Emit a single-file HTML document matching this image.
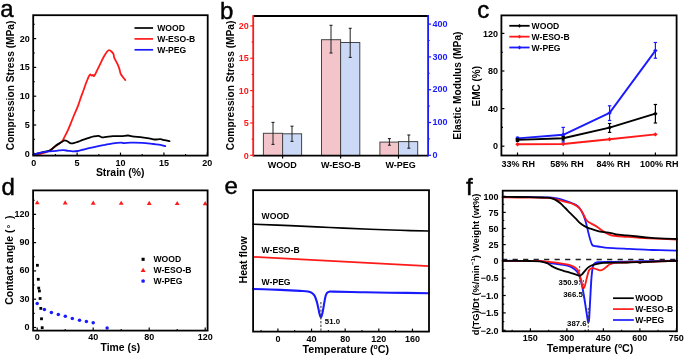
<!DOCTYPE html>
<html><head><meta charset="utf-8"><style>
html,body{margin:0;padding:0;background:#fff;}
svg{display:block;font-family:"Liberation Sans",sans-serif;will-change:transform;}
</style></head><body>
<svg width="685" height="356" viewBox="0 0 685 356">
<rect width="685" height="356" fill="#fff"/>
<text x="0.2" y="17.3" font-size="24" font-weight="normal" fill="#000" stroke="#000" stroke-width="0.45">a</text>
<text x="220.1" y="18.5" font-size="24" font-weight="normal" fill="#000" stroke="#000" stroke-width="0.45">b</text>
<text x="477.2" y="18.3" font-size="24" font-weight="normal" fill="#000" stroke="#000" stroke-width="0.45">c</text>
<text x="1.6" y="195.2" font-size="24" font-weight="normal" fill="#000" stroke="#000" stroke-width="0.45">d</text>
<text x="224.6" y="194.2" font-size="24" font-weight="normal" fill="#000" stroke="#000" stroke-width="0.45">e</text>
<text x="466" y="195" font-size="24" font-weight="normal" fill="#000" stroke="#000" stroke-width="0.45">f</text>
<line x1="33.7" y1="155.6" x2="33.7" y2="152.6" stroke="#000" stroke-width="1.2" />
<text x="33.7" y="166" font-size="9" text-anchor="middle" fill="#000" font-weight="bold" >0</text>
<line x1="77.1" y1="155.6" x2="77.1" y2="152.6" stroke="#000" stroke-width="1.2" />
<text x="77.1" y="166" font-size="9" text-anchor="middle" fill="#000" font-weight="bold" >5</text>
<line x1="120.5" y1="155.6" x2="120.5" y2="152.6" stroke="#000" stroke-width="1.2" />
<text x="120.5" y="166" font-size="9" text-anchor="middle" fill="#000" font-weight="bold" >10</text>
<line x1="163.9" y1="155.6" x2="163.9" y2="152.6" stroke="#000" stroke-width="1.2" />
<text x="163.9" y="166" font-size="9" text-anchor="middle" fill="#000" font-weight="bold" >15</text>
<line x1="207.3" y1="155.6" x2="207.3" y2="152.6" stroke="#000" stroke-width="1.2" />
<text x="207.3" y="166" font-size="9" text-anchor="middle" fill="#000" font-weight="bold" >20</text>
<line x1="55.4" y1="155.6" x2="55.4" y2="154" stroke="#000" stroke-width="1.1" />
<line x1="98.8" y1="155.6" x2="98.8" y2="154" stroke="#000" stroke-width="1.1" />
<line x1="142.2" y1="155.6" x2="142.2" y2="154" stroke="#000" stroke-width="1.1" />
<line x1="185.6" y1="155.6" x2="185.6" y2="154" stroke="#000" stroke-width="1.1" />
<line x1="33.2" y1="153.8" x2="36.2" y2="153.8" stroke="#000" stroke-width="1.2" />
<text x="29.7" y="156.7" font-size="9" text-anchor="end" fill="#000" font-weight="bold" >0</text>
<line x1="33.2" y1="125" x2="36.2" y2="125" stroke="#000" stroke-width="1.2" />
<text x="29.7" y="127.9" font-size="9" text-anchor="end" fill="#000" font-weight="bold" >5</text>
<line x1="33.2" y1="96.2" x2="36.2" y2="96.2" stroke="#000" stroke-width="1.2" />
<text x="29.7" y="99.1" font-size="9" text-anchor="end" fill="#000" font-weight="bold" >10</text>
<line x1="33.2" y1="67.4" x2="36.2" y2="67.4" stroke="#000" stroke-width="1.2" />
<text x="29.7" y="70.3" font-size="9" text-anchor="end" fill="#000" font-weight="bold" >15</text>
<line x1="33.2" y1="38.6" x2="36.2" y2="38.6" stroke="#000" stroke-width="1.2" />
<text x="29.7" y="41.5" font-size="9" text-anchor="end" fill="#000" font-weight="bold" >20</text>
<line x1="33.2" y1="139.4" x2="34.8" y2="139.4" stroke="#000" stroke-width="1.1" />
<line x1="33.2" y1="110.6" x2="34.8" y2="110.6" stroke="#000" stroke-width="1.1" />
<line x1="33.2" y1="81.8" x2="34.8" y2="81.8" stroke="#000" stroke-width="1.1" />
<line x1="33.2" y1="53" x2="34.8" y2="53" stroke="#000" stroke-width="1.1" />
<line x1="33.2" y1="24.2" x2="34.8" y2="24.2" stroke="#000" stroke-width="1.1" />
<path d="M33.5,155 C34.25,154.92 36.25,154.83 38,154.5 C39.75,154.17 42,153.72 44,153 C46,152.28 48.02,151.37 50,150.2 C51.98,149.03 53.93,147.45 55.9,146 C57.87,144.55 60.33,143.07 61.8,141.5 C63.27,139.93 63.72,138.4 64.7,136.6 C65.68,134.8 66.72,132.83 67.7,130.7 C68.68,128.57 69.53,126.42 70.6,123.8 C71.67,121.18 72.83,118.07 74.1,115 C75.37,111.93 77.13,108.15 78.2,105.4 C79.27,102.65 79.6,101.07 80.5,98.5 C81.4,95.93 82.77,92.33 83.6,90 C84.43,87.67 84.85,86.25 85.5,84.5 C86.15,82.75 86.88,80.98 87.5,79.5 C88.12,78.02 88.73,76.43 89.2,75.6 C89.67,74.77 89.92,74.48 90.3,74.5 C90.68,74.52 91.08,75.63 91.5,75.7 C91.92,75.77 92.35,74.87 92.8,74.9 C93.25,74.93 93.48,76.67 94.2,75.9 C94.92,75.13 96.07,72.35 97.1,70.3 C98.13,68.25 99.28,65.85 100.4,63.6 C101.52,61.35 102.67,58.82 103.8,56.8 C104.93,54.78 106.3,52.62 107.2,51.5 C108.1,50.38 108.5,50.1 109.2,50.1 C109.9,50.1 110.67,50.8 111.4,51.5 C112.13,52.2 113.13,53.27 113.6,54.3 C114.07,55.33 113.58,56.15 114.2,57.7 C114.82,59.25 116.45,61.78 117.3,63.6 C118.15,65.42 118.75,66.92 119.3,68.6 C119.85,70.28 120.1,72.43 120.6,73.7 C121.1,74.97 121.52,75.13 122.3,76.2 C123.08,77.27 124.8,79.45 125.3,80.1" fill="none" stroke="#ff1a1a" stroke-width="1.8" stroke-linejoin="round" stroke-linecap="round" />
<path d="M33.5,154.6 C34.58,154.3 38.08,153.3 40,152.8 C41.92,152.3 43.25,152.03 45,151.6 C46.75,151.17 48.68,151.22 50.5,150.2 C52.32,149.18 54.02,146.87 55.9,145.5 C57.78,144.13 60.33,142.87 61.8,142 C63.27,141.13 63.72,140.38 64.7,140.3 C65.68,140.22 66.63,140.98 67.7,141.5 C68.77,142.02 69.78,143.23 71.1,143.4 C72.42,143.57 74.12,142.9 75.6,142.5 C77.08,142.1 78.53,141.53 80,141 C81.47,140.47 82.9,139.83 84.4,139.3 C85.9,138.77 87.45,138.28 89,137.8 C90.55,137.32 92.13,136.73 93.7,136.4 C95.27,136.07 97.03,135.65 98.4,135.8 C99.77,135.95 100.53,137.13 101.9,137.3 C103.27,137.47 104.75,136.98 106.6,136.8 C108.45,136.62 110.58,136.32 113,136.2 C115.42,136.08 118.58,136.22 121.1,136.1 C123.62,135.98 126.23,135.45 128.1,135.5 C129.97,135.55 129.97,136.08 132.3,136.4 C134.63,136.72 139.3,137.07 142.1,137.4 C144.9,137.73 147,138.05 149.1,138.4 C151.2,138.75 152.82,139.37 154.7,139.5 C156.58,139.63 158.75,139.08 160.4,139.2 C162.05,139.32 163.08,139.87 164.6,140.2 C166.12,140.53 168.68,141.03 169.5,141.2" fill="none" stroke="#000" stroke-width="1.8" stroke-linejoin="round" stroke-linecap="round" />
<path d="M33.5,154.7 C34.58,154.38 37.75,153.32 40,152.8 C42.25,152.28 44.27,151.93 47,151.6 C49.73,151.27 53.67,151.05 56.4,150.8 C59.13,150.55 61.47,150.1 63.4,150.1 C65.33,150.1 66.45,150.6 68,150.8 C69.55,151 71.13,151.27 72.7,151.3 C74.27,151.33 75.85,151.23 77.4,151 C78.95,150.77 80.05,150.38 82,149.9 C83.95,149.42 86.37,148.73 89.1,148.1 C91.83,147.47 95.75,146.65 98.4,146.1 C101.05,145.55 102.57,145.27 105,144.8 C107.43,144.33 110.32,143.67 113,143.3 C115.68,142.93 119.28,142.63 121.1,142.6 C122.92,142.57 122.27,143.1 123.9,143.1 C125.53,143.1 127.87,142.65 130.9,142.6 C133.93,142.55 138.37,142.57 142.1,142.8 C145.83,143.03 150.25,143.67 153.3,144 C156.35,144.33 158.4,144.43 160.4,144.8 C162.4,145.17 164.48,145.97 165.3,146.2" fill="none" stroke="#1a1aff" stroke-width="1.8" stroke-linejoin="round" stroke-linecap="round" />
<rect x="33.2" y="15.2" width="174.5" height="140.4" fill="none" stroke="#000" stroke-width="1.8" />
<line x1="134.5" y1="28" x2="153.1" y2="28" stroke="#000" stroke-width="1.7" />
<text x="157.2" y="31.1" font-size="8.6" text-anchor="start" fill="#000" font-weight="bold" >WOOD</text>
<line x1="134.5" y1="38.9" x2="153.1" y2="38.9" stroke="#ff1a1a" stroke-width="1.7" />
<text x="157.2" y="42" font-size="8.6" text-anchor="start" fill="#000" font-weight="bold" >W-ESO-B</text>
<line x1="134.5" y1="49.8" x2="153.1" y2="49.8" stroke="#1a1aff" stroke-width="1.7" />
<text x="157.2" y="52.9" font-size="8.6" text-anchor="start" fill="#000" font-weight="bold" >W-PEG</text>
<text transform="translate(10.4,85.4) rotate(-90)" x="0" y="0" font-size="10.2" text-anchor="middle" dominant-baseline="central" fill="#000" font-weight="bold" >Compression Stress (MPa)</text>
<text x="120.2" y="175.5" font-size="10.4" text-anchor="middle" fill="#000" font-weight="bold" >Strain (%)</text>
<rect x="263.4" y="133.3" width="19.2" height="22.3" fill="#f3c5ca" stroke="#444" stroke-width="1.0" />
<rect x="282.6" y="133.8" width="19" height="21.8" fill="#cbd9f7" stroke="#444" stroke-width="1.0" />
<rect x="321.5" y="39.7" width="19.1" height="115.9" fill="#f3c5ca" stroke="#444" stroke-width="1.0" />
<rect x="340.6" y="42.5" width="19.2" height="113.1" fill="#cbd9f7" stroke="#444" stroke-width="1.0" />
<rect x="379.9" y="142.1" width="18.6" height="13.5" fill="#f3c5ca" stroke="#444" stroke-width="1.0" />
<rect x="398.5" y="141.6" width="19.2" height="14" fill="#cbd9f7" stroke="#444" stroke-width="1.0" />
<line x1="273" y1="122.4" x2="273" y2="144.4" stroke="#222" stroke-width="1" />
<line x1="271.5" y1="122.4" x2="274.5" y2="122.4" stroke="#222" stroke-width="1.1" />
<line x1="271.5" y1="144.4" x2="274.5" y2="144.4" stroke="#222" stroke-width="1.1" />
<line x1="292" y1="126.2" x2="292" y2="141.4" stroke="#222" stroke-width="1" />
<line x1="290.5" y1="126.2" x2="293.5" y2="126.2" stroke="#222" stroke-width="1.1" />
<line x1="290.5" y1="141.4" x2="293.5" y2="141.4" stroke="#222" stroke-width="1.1" />
<line x1="331" y1="25.3" x2="331" y2="53" stroke="#222" stroke-width="1" />
<line x1="329.5" y1="25.3" x2="332.5" y2="25.3" stroke="#222" stroke-width="1.1" />
<line x1="329.5" y1="53" x2="332.5" y2="53" stroke="#222" stroke-width="1.1" />
<line x1="350.2" y1="28.3" x2="350.2" y2="57.4" stroke="#222" stroke-width="1" />
<line x1="348.7" y1="28.3" x2="351.7" y2="28.3" stroke="#222" stroke-width="1.1" />
<line x1="348.7" y1="57.4" x2="351.7" y2="57.4" stroke="#222" stroke-width="1.1" />
<line x1="389.4" y1="138.6" x2="389.4" y2="145.2" stroke="#222" stroke-width="1" />
<line x1="387.9" y1="138.6" x2="390.9" y2="138.6" stroke="#222" stroke-width="1.1" />
<line x1="387.9" y1="145.2" x2="390.9" y2="145.2" stroke="#222" stroke-width="1.1" />
<line x1="408.8" y1="135" x2="408.8" y2="148.2" stroke="#222" stroke-width="1" />
<line x1="407.3" y1="135" x2="410.3" y2="135" stroke="#222" stroke-width="1.1" />
<line x1="407.3" y1="148.2" x2="410.3" y2="148.2" stroke="#222" stroke-width="1.1" />
<line x1="253.2" y1="16" x2="428.1" y2="16" stroke="#000" stroke-width="1.8" />
<line x1="253.2" y1="155.6" x2="428.1" y2="155.6" stroke="#000" stroke-width="1.8" />
<line x1="253.2" y1="15.1" x2="253.2" y2="156.5" stroke="#ff1a1a" stroke-width="1.8" />
<line x1="428.1" y1="15.1" x2="428.1" y2="156.5" stroke="#1a1aff" stroke-width="1.8" />
<line x1="253.2" y1="155.3" x2="250.2" y2="155.3" stroke="#ff1a1a" stroke-width="1.2" />
<text x="248.7" y="158.5" font-size="9" text-anchor="end" fill="#ff1a1a" font-weight="bold" >0</text>
<line x1="253.2" y1="122.95" x2="250.2" y2="122.95" stroke="#ff1a1a" stroke-width="1.2" />
<text x="248.7" y="126.15" font-size="9" text-anchor="end" fill="#ff1a1a" font-weight="bold" >5</text>
<line x1="253.2" y1="90.6" x2="250.2" y2="90.6" stroke="#ff1a1a" stroke-width="1.2" />
<text x="248.7" y="93.8" font-size="9" text-anchor="end" fill="#ff1a1a" font-weight="bold" >10</text>
<line x1="253.2" y1="58.25" x2="250.2" y2="58.25" stroke="#ff1a1a" stroke-width="1.2" />
<text x="248.7" y="61.45" font-size="9" text-anchor="end" fill="#ff1a1a" font-weight="bold" >15</text>
<line x1="253.2" y1="25.9" x2="250.2" y2="25.9" stroke="#ff1a1a" stroke-width="1.2" />
<text x="248.7" y="29.1" font-size="9" text-anchor="end" fill="#ff1a1a" font-weight="bold" >20</text>
<line x1="253.2" y1="139.12" x2="251.6" y2="139.12" stroke="#ff1a1a" stroke-width="1.1" />
<line x1="253.2" y1="106.78" x2="251.6" y2="106.78" stroke="#ff1a1a" stroke-width="1.1" />
<line x1="253.2" y1="74.43" x2="251.6" y2="74.43" stroke="#ff1a1a" stroke-width="1.1" />
<line x1="253.2" y1="42.08" x2="251.6" y2="42.08" stroke="#ff1a1a" stroke-width="1.1" />
<line x1="428.1" y1="155.3" x2="431.1" y2="155.3" stroke="#1a1aff" stroke-width="1.2" />
<text x="432.6" y="157.9" font-size="9" text-anchor="start" fill="#1a1aff" font-weight="bold" >0</text>
<line x1="428.1" y1="122.5" x2="431.1" y2="122.5" stroke="#1a1aff" stroke-width="1.2" />
<text x="432.6" y="125.1" font-size="9" text-anchor="start" fill="#1a1aff" font-weight="bold" >100</text>
<line x1="428.1" y1="89.7" x2="431.1" y2="89.7" stroke="#1a1aff" stroke-width="1.2" />
<text x="432.6" y="92.3" font-size="9" text-anchor="start" fill="#1a1aff" font-weight="bold" >200</text>
<line x1="428.1" y1="56.9" x2="431.1" y2="56.9" stroke="#1a1aff" stroke-width="1.2" />
<text x="432.6" y="59.5" font-size="9" text-anchor="start" fill="#1a1aff" font-weight="bold" >300</text>
<line x1="428.1" y1="24.1" x2="431.1" y2="24.1" stroke="#1a1aff" stroke-width="1.2" />
<text x="432.6" y="26.7" font-size="9" text-anchor="start" fill="#1a1aff" font-weight="bold" >400</text>
<line x1="428.1" y1="138.9" x2="429.7" y2="138.9" stroke="#1a1aff" stroke-width="1.1" />
<line x1="428.1" y1="106.1" x2="429.7" y2="106.1" stroke="#1a1aff" stroke-width="1.1" />
<line x1="428.1" y1="73.3" x2="429.7" y2="73.3" stroke="#1a1aff" stroke-width="1.1" />
<line x1="428.1" y1="40.5" x2="429.7" y2="40.5" stroke="#1a1aff" stroke-width="1.1" />
<line x1="282.6" y1="155.6" x2="282.6" y2="158.6" stroke="#000" stroke-width="1.2" />
<text x="282.2" y="167.6" font-size="9" text-anchor="middle" fill="#000" font-weight="bold" >WOOD</text>
<line x1="340.6" y1="155.6" x2="340.6" y2="158.6" stroke="#000" stroke-width="1.2" />
<text x="340.8" y="167.6" font-size="9" text-anchor="middle" fill="#000" font-weight="bold" >W-ESO-B</text>
<line x1="398.5" y1="155.6" x2="398.5" y2="158.6" stroke="#000" stroke-width="1.2" />
<text x="400.6" y="167.6" font-size="9" text-anchor="middle" fill="#000" font-weight="bold" >W-PEG</text>
<text transform="translate(230.8,85.4) rotate(-90)" x="0" y="0" font-size="10.2" text-anchor="middle" dominant-baseline="central" fill="#000" font-weight="bold" >Compression Stress (MPa)</text>
<text transform="translate(457,85.6) rotate(-90)" x="0" y="0" font-size="10.2" text-anchor="middle" dominant-baseline="central" fill="#000" font-weight="bold" >Elastic Modulus (MPa)</text>
<line x1="501.4" y1="146.2" x2="504.4" y2="146.2" stroke="#000" stroke-width="1.2" />
<text x="498.1" y="149.4" font-size="9" text-anchor="end" fill="#000" font-weight="bold" >0</text>
<line x1="501.4" y1="108.6" x2="504.4" y2="108.6" stroke="#000" stroke-width="1.2" />
<text x="498.1" y="111.8" font-size="9" text-anchor="end" fill="#000" font-weight="bold" >40</text>
<line x1="501.4" y1="71" x2="504.4" y2="71" stroke="#000" stroke-width="1.2" />
<text x="498.1" y="74.2" font-size="9" text-anchor="end" fill="#000" font-weight="bold" >80</text>
<line x1="501.4" y1="33.4" x2="504.4" y2="33.4" stroke="#000" stroke-width="1.2" />
<text x="498.1" y="36.6" font-size="9" text-anchor="end" fill="#000" font-weight="bold" >120</text>
<line x1="501.4" y1="127.4" x2="503" y2="127.4" stroke="#000" stroke-width="1.1" />
<line x1="501.4" y1="89.8" x2="503" y2="89.8" stroke="#000" stroke-width="1.1" />
<line x1="501.4" y1="52.2" x2="503" y2="52.2" stroke="#000" stroke-width="1.1" />
<line x1="517.5" y1="155.5" x2="517.5" y2="152.5" stroke="#000" stroke-width="1.2" />
<text x="518.2" y="167.3" font-size="9" text-anchor="middle" fill="#000" font-weight="bold" >33% RH</text>
<line x1="563.2" y1="155.5" x2="563.2" y2="152.5" stroke="#000" stroke-width="1.2" />
<text x="567.1" y="167.3" font-size="9" text-anchor="middle" fill="#000" font-weight="bold" >58% RH</text>
<line x1="609.6" y1="155.5" x2="609.6" y2="152.5" stroke="#000" stroke-width="1.2" />
<text x="613.2" y="167.3" font-size="9" text-anchor="middle" fill="#000" font-weight="bold" >84% RH</text>
<line x1="655.4" y1="155.5" x2="655.4" y2="152.5" stroke="#000" stroke-width="1.2" />
<text x="659.2" y="167.3" font-size="9" text-anchor="middle" fill="#000" font-weight="bold" >100% RH</text>
<line x1="517.5" y1="137.2" x2="517.5" y2="140.1" stroke="#1a1aff" stroke-width="1.2" />
<line x1="515.8" y1="137.2" x2="519.2" y2="137.2" stroke="#1a1aff" stroke-width="1.2" />
<line x1="515.8" y1="140.1" x2="519.2" y2="140.1" stroke="#1a1aff" stroke-width="1.2" />
<line x1="563.2" y1="127.4" x2="563.2" y2="142" stroke="#1a1aff" stroke-width="1.2" />
<line x1="561.5" y1="127.4" x2="564.9" y2="127.4" stroke="#1a1aff" stroke-width="1.2" />
<line x1="561.5" y1="142" x2="564.9" y2="142" stroke="#1a1aff" stroke-width="1.2" />
<line x1="609.6" y1="105.8" x2="609.6" y2="120.5" stroke="#1a1aff" stroke-width="1.2" />
<line x1="607.9" y1="105.8" x2="611.3" y2="105.8" stroke="#1a1aff" stroke-width="1.2" />
<line x1="607.9" y1="120.5" x2="611.3" y2="120.5" stroke="#1a1aff" stroke-width="1.2" />
<line x1="655.4" y1="42.5" x2="655.4" y2="58.2" stroke="#1a1aff" stroke-width="1.2" />
<line x1="653.7" y1="42.5" x2="657.1" y2="42.5" stroke="#1a1aff" stroke-width="1.2" />
<line x1="653.7" y1="58.2" x2="657.1" y2="58.2" stroke="#1a1aff" stroke-width="1.2" />
<polyline points="517.5,138.4 563.2,134.8 609.6,112.9 655.4,50.6" fill="none" stroke="#1a1aff" stroke-width="1.9" stroke-linejoin="round" stroke-linecap="round" />
<path d="M517.5,136.2 L519.7,138.4 L517.5,140.6 L515.3,138.4Z" fill="#1a1aff"/>
<path d="M563.2,132.6 L565.4,134.8 L563.2,137 L561,134.8Z" fill="#1a1aff"/>
<path d="M609.6,110.7 L611.8,112.9 L609.6,115.1 L607.4,112.9Z" fill="#1a1aff"/>
<path d="M655.4,48.4 L657.6,50.6 L655.4,52.8 L653.2,50.6Z" fill="#1a1aff"/>
<polyline points="517.5,144.3 563.2,144 609.6,139.2 655.4,134.4" fill="none" stroke="#ff1a1a" stroke-width="1.9" stroke-linejoin="round" stroke-linecap="round" />
<path d="M517.5,142.1 L519.7,144.3 L517.5,146.5 L515.3,144.3Z" fill="#ff1a1a"/>
<path d="M563.2,141.8 L565.4,144 L563.2,146.2 L561,144Z" fill="#ff1a1a"/>
<path d="M609.6,137 L611.8,139.2 L609.6,141.4 L607.4,139.2Z" fill="#ff1a1a"/>
<path d="M655.4,132.2 L657.6,134.4 L655.4,136.6 L653.2,134.4Z" fill="#ff1a1a"/>
<line x1="517.5" y1="138.8" x2="517.5" y2="141.4" stroke="#000" stroke-width="1.2" />
<line x1="515.8" y1="138.8" x2="519.2" y2="138.8" stroke="#000" stroke-width="1.2" />
<line x1="515.8" y1="141.4" x2="519.2" y2="141.4" stroke="#000" stroke-width="1.2" />
<line x1="563.2" y1="136.5" x2="563.2" y2="140" stroke="#000" stroke-width="1.2" />
<line x1="561.5" y1="136.5" x2="564.9" y2="136.5" stroke="#000" stroke-width="1.2" />
<line x1="561.5" y1="140" x2="564.9" y2="140" stroke="#000" stroke-width="1.2" />
<line x1="609.6" y1="123.5" x2="609.6" y2="132.4" stroke="#000" stroke-width="1.2" />
<line x1="607.9" y1="123.5" x2="611.3" y2="123.5" stroke="#000" stroke-width="1.2" />
<line x1="607.9" y1="132.4" x2="611.3" y2="132.4" stroke="#000" stroke-width="1.2" />
<line x1="655.4" y1="104.5" x2="655.4" y2="123" stroke="#000" stroke-width="1.2" />
<line x1="653.7" y1="104.5" x2="657.1" y2="104.5" stroke="#000" stroke-width="1.2" />
<line x1="653.7" y1="123" x2="657.1" y2="123" stroke="#000" stroke-width="1.2" />
<polyline points="517.5,139.9 563.2,138.2 609.6,127.6 655.4,113.7" fill="none" stroke="#000" stroke-width="1.9" stroke-linejoin="round" stroke-linecap="round" />
<path d="M517.5,137.7 L519.7,139.9 L517.5,142.1 L515.3,139.9Z" fill="#000"/>
<path d="M563.2,136 L565.4,138.2 L563.2,140.4 L561,138.2Z" fill="#000"/>
<path d="M609.6,125.4 L611.8,127.6 L609.6,129.8 L607.4,127.6Z" fill="#000"/>
<path d="M655.4,111.5 L657.6,113.7 L655.4,115.9 L653.2,113.7Z" fill="#000"/>
<rect x="501.4" y="15.4" width="175.2" height="140.1" fill="none" stroke="#000" stroke-width="1.8" />
<line x1="509.3" y1="25.8" x2="529.6" y2="25.8" stroke="#000" stroke-width="1.8" />
<path d="M519.5,23.9 L521.4,25.8 L519.5,27.7 L517.6,25.8Z" fill="#000"/>
<text x="531.6" y="28.9" font-size="8.6" text-anchor="start" fill="#000" font-weight="bold" >WOOD</text>
<line x1="509.3" y1="36.65" x2="529.6" y2="36.65" stroke="#ff1a1a" stroke-width="1.8" />
<path d="M519.5,34.75 L521.4,36.65 L519.5,38.55 L517.6,36.65Z" fill="#ff1a1a"/>
<text x="531.6" y="39.75" font-size="8.6" text-anchor="start" fill="#000" font-weight="bold" >W-ESO-B</text>
<line x1="509.3" y1="47.5" x2="529.6" y2="47.5" stroke="#1a1aff" stroke-width="1.8" />
<path d="M519.5,45.6 L521.4,47.5 L519.5,49.4 L517.6,47.5Z" fill="#1a1aff"/>
<text x="531.6" y="50.6" font-size="8.6" text-anchor="start" fill="#000" font-weight="bold" >W-PEG</text>
<text transform="translate(476.4,86.2) rotate(-90)" x="0" y="0" font-size="10" text-anchor="middle" dominant-baseline="central" fill="#000" font-weight="bold" >EMC (%)</text>
<line x1="37.2" y1="330.6" x2="37.2" y2="327.6" stroke="#000" stroke-width="1.2" />
<text x="37.2" y="340.3" font-size="9" text-anchor="middle" fill="#000" font-weight="bold" >0</text>
<line x1="93.2" y1="330.6" x2="93.2" y2="327.6" stroke="#000" stroke-width="1.2" />
<text x="93.2" y="340.3" font-size="9" text-anchor="middle" fill="#000" font-weight="bold" >40</text>
<line x1="149.2" y1="330.6" x2="149.2" y2="327.6" stroke="#000" stroke-width="1.2" />
<text x="149.2" y="340.3" font-size="9" text-anchor="middle" fill="#000" font-weight="bold" >80</text>
<line x1="205.2" y1="330.6" x2="205.2" y2="327.6" stroke="#000" stroke-width="1.2" />
<text x="205.2" y="340.3" font-size="9" text-anchor="middle" fill="#000" font-weight="bold" >120</text>
<line x1="65.2" y1="330.6" x2="65.2" y2="329" stroke="#000" stroke-width="1.1" />
<line x1="121.2" y1="330.6" x2="121.2" y2="329" stroke="#000" stroke-width="1.1" />
<line x1="177.2" y1="330.6" x2="177.2" y2="329" stroke="#000" stroke-width="1.1" />
<line x1="33.1" y1="327.5" x2="36.1" y2="327.5" stroke="#000" stroke-width="1.2" />
<text x="29.6" y="329.9" font-size="9" text-anchor="end" fill="#000" font-weight="bold" >0</text>
<line x1="33.1" y1="299.21" x2="36.1" y2="299.21" stroke="#000" stroke-width="1.2" />
<text x="29.6" y="301.61" font-size="9" text-anchor="end" fill="#000" font-weight="bold" >30</text>
<line x1="33.1" y1="270.92" x2="36.1" y2="270.92" stroke="#000" stroke-width="1.2" />
<text x="29.6" y="273.32" font-size="9" text-anchor="end" fill="#000" font-weight="bold" >60</text>
<line x1="33.1" y1="242.63" x2="36.1" y2="242.63" stroke="#000" stroke-width="1.2" />
<text x="29.6" y="245.03" font-size="9" text-anchor="end" fill="#000" font-weight="bold" >90</text>
<line x1="33.1" y1="214.34" x2="36.1" y2="214.34" stroke="#000" stroke-width="1.2" />
<text x="29.6" y="216.74" font-size="9" text-anchor="end" fill="#000" font-weight="bold" >120</text>
<line x1="33.1" y1="313.36" x2="34.7" y2="313.36" stroke="#000" stroke-width="1.1" />
<line x1="33.1" y1="285.06" x2="34.7" y2="285.06" stroke="#000" stroke-width="1.1" />
<line x1="33.1" y1="256.77" x2="34.7" y2="256.77" stroke="#000" stroke-width="1.1" />
<line x1="33.1" y1="228.49" x2="34.7" y2="228.49" stroke="#000" stroke-width="1.1" />
<line x1="33.1" y1="200.19" x2="34.7" y2="200.19" stroke="#000" stroke-width="1.1" />
<path d="M37.2,200.2 L39.62,204.34 L34.79,204.34Z" fill="#ff1a1a"/>
<path d="M65.2,200.35 L67.62,204.49 L62.79,204.49Z" fill="#ff1a1a"/>
<path d="M93.2,200.5 L95.62,204.64 L90.78,204.64Z" fill="#ff1a1a"/>
<path d="M121.2,200.65 L123.62,204.79 L118.78,204.79Z" fill="#ff1a1a"/>
<path d="M149.2,200.8 L151.61,204.94 L146.78,204.94Z" fill="#ff1a1a"/>
<path d="M177.2,200.95 L179.61,205.09 L174.78,205.09Z" fill="#ff1a1a"/>
<path d="M205.2,201.1 L207.61,205.24 L202.78,205.24Z" fill="#ff1a1a"/>
<rect x="36" y="263.9" width="2.8" height="2.8" fill="#000"/>
<rect x="36.9" y="277.9" width="2.8" height="2.8" fill="#000"/>
<rect x="37.3" y="286.7" width="2.8" height="2.8" fill="#000"/>
<rect x="38" y="289.6" width="2.8" height="2.8" fill="#000"/>
<rect x="38.7" y="297.1" width="2.8" height="2.8" fill="#000"/>
<rect x="39.4" y="307" width="2.8" height="2.8" fill="#000"/>
<rect x="40.1" y="317.4" width="2.8" height="2.8" fill="#000"/>
<rect x="40.8" y="326.3" width="2.8" height="2.8" fill="#000"/>
<circle cx="37.2" cy="303.4" r="1.75" fill="#1a1aff"/>
<circle cx="44.4" cy="309.4" r="1.75" fill="#1a1aff"/>
<circle cx="51.4" cy="312.4" r="1.75" fill="#1a1aff"/>
<circle cx="58.3" cy="314.4" r="1.75" fill="#1a1aff"/>
<circle cx="65.3" cy="316.3" r="1.75" fill="#1a1aff"/>
<circle cx="72.3" cy="318.5" r="1.75" fill="#1a1aff"/>
<circle cx="79.5" cy="320.3" r="1.75" fill="#1a1aff"/>
<circle cx="86.4" cy="321.5" r="1.75" fill="#1a1aff"/>
<circle cx="93.2" cy="322.7" r="1.75" fill="#1a1aff"/>
<circle cx="107.1" cy="327.9" r="1.75" fill="#1a1aff"/>
<rect x="33.1" y="190.4" width="174.5" height="140.2" fill="none" stroke="#000" stroke-width="1.8" />
<rect x="141.55" y="257.75" width="3.1" height="3.1" fill="#000"/>
<path d="M143.1,267.8 L145.62,272.12 L140.58,272.12Z" fill="#ff1a1a"/>
<circle cx="143.1" cy="281" r="1.85" fill="#1a1aff"/>
<text x="153.5" y="262.4" font-size="8.6" text-anchor="start" fill="#000" font-weight="bold" >WOOD</text>
<text x="153.5" y="273.3" font-size="8.6" text-anchor="start" fill="#000" font-weight="bold" >W-ESO-B</text>
<text x="153.5" y="284.2" font-size="8.6" text-anchor="start" fill="#000" font-weight="bold" >W-PEG</text>
<text transform="translate(13.1,304.7) rotate(-90)" font-size="10.4" font-weight="bold" fill="#000">Contact angle (<tspan x="76.3" font-size="9.5">&#176;</tspan><tspan x="85.6">)</tspan></text>
<text x="120.3" y="351" font-size="10.4" text-anchor="middle" fill="#000" font-weight="bold" >Time (s)</text>
<line x1="277.9" y1="331.6" x2="277.9" y2="328.6" stroke="#000" stroke-width="1.2" />
<text x="277.9" y="342" font-size="9" text-anchor="middle" fill="#000" font-weight="bold" >0</text>
<line x1="311.54" y1="331.6" x2="311.54" y2="328.6" stroke="#000" stroke-width="1.2" />
<text x="311.54" y="342" font-size="9" text-anchor="middle" fill="#000" font-weight="bold" >40</text>
<line x1="345.18" y1="331.6" x2="345.18" y2="328.6" stroke="#000" stroke-width="1.2" />
<text x="345.18" y="342" font-size="9" text-anchor="middle" fill="#000" font-weight="bold" >80</text>
<line x1="378.82" y1="331.6" x2="378.82" y2="328.6" stroke="#000" stroke-width="1.2" />
<text x="378.82" y="342" font-size="9" text-anchor="middle" fill="#000" font-weight="bold" >120</text>
<line x1="412.46" y1="331.6" x2="412.46" y2="328.6" stroke="#000" stroke-width="1.2" />
<text x="412.46" y="342" font-size="9" text-anchor="middle" fill="#000" font-weight="bold" >160</text>
<line x1="261.08" y1="331.6" x2="261.08" y2="330" stroke="#000" stroke-width="1.1" />
<line x1="294.72" y1="331.6" x2="294.72" y2="330" stroke="#000" stroke-width="1.1" />
<line x1="328.36" y1="331.6" x2="328.36" y2="330" stroke="#000" stroke-width="1.1" />
<line x1="362" y1="331.6" x2="362" y2="330" stroke="#000" stroke-width="1.1" />
<line x1="395.64" y1="331.6" x2="395.64" y2="330" stroke="#000" stroke-width="1.1" />
<path d="M253.1,224.2 C259.25,224.43 277.18,225.05 290,225.6 C302.82,226.15 316.67,226.9 330,227.5 C343.33,228.1 358.33,228.73 370,229.2 C381.67,229.67 390.17,230 400,230.3 C409.83,230.6 424.17,230.88 429,231" fill="none" stroke="#000" stroke-width="1.6" stroke-linejoin="round" stroke-linecap="round" />
<line x1="253.1" y1="256.9" x2="429" y2="266.2" stroke="#ff1a1a" stroke-width="1.7" />
<path d="M253.1,289 C255.92,289.08 264.68,289.32 270,289.5 C275.32,289.68 280,289.87 285,290.1 C290,290.33 296.2,290.67 300,290.9 C303.8,291.13 305.83,291.18 307.8,291.5 C309.77,291.82 310.7,292.15 311.8,292.8 C312.9,293.45 313.73,294.42 314.4,295.4 C315.07,296.38 315.33,297.4 315.8,298.7 C316.27,300 316.77,301.57 317.2,303.2 C317.63,304.83 318.02,306.73 318.4,308.5 C318.78,310.27 319.08,312.28 319.5,313.8 C319.92,315.32 320.43,317.6 320.9,317.6 C321.37,317.6 321.88,315.4 322.3,313.8 C322.72,312.2 323.03,310.05 323.4,308 C323.77,305.95 324.13,303.5 324.5,301.5 C324.87,299.5 325.15,297.45 325.6,296 C326.05,294.55 326.55,293.5 327.2,292.8 C327.85,292.1 328.53,292 329.5,291.8 C330.47,291.6 327.92,291.53 333,291.6 C338.08,291.67 350.5,292.02 360,292.2 C369.5,292.38 378.5,292.53 390,292.7 C401.5,292.87 422.5,293.12 429,293.2" fill="none" stroke="#1a1aff" stroke-width="2.1" stroke-linejoin="round" stroke-linecap="round" />
<line x1="320.9" y1="302" x2="320.9" y2="331" stroke="#444" stroke-width="1.1" stroke-dasharray="2.2,1.6"/>
<text x="324.8" y="324.4" font-size="7.8" text-anchor="start" fill="#000" font-weight="bold" >51.0</text>
<rect x="253.1" y="190.2" width="175.9" height="141.4" fill="none" stroke="#000" stroke-width="1.8" />
<text x="261.6" y="219.3" font-size="8.6" text-anchor="start" fill="#000" font-weight="bold" >WOOD</text>
<text x="261.6" y="253.4" font-size="8.6" text-anchor="start" fill="#000" font-weight="bold" >W-ESO-B</text>
<text x="261.6" y="285" font-size="8.6" text-anchor="start" fill="#000" font-weight="bold" >W-PEG</text>
<text transform="translate(243.2,259.9) rotate(-90)" x="0" y="0" font-size="10.6" text-anchor="middle" dominant-baseline="central" fill="#000" font-weight="bold" >Heat flow</text>
<text x="345.8" y="353.2" font-size="10.8" text-anchor="middle" fill="#000" font-weight="bold" >Temperature (<tspan font-size="6.8" dy="-4.2">o</tspan><tspan dy="4.2">C)</tspan></text>
<line x1="530.39" y1="331.3" x2="530.39" y2="328.3" stroke="#000" stroke-width="1.2" />
<text x="530.39" y="340.7" font-size="9" text-anchor="middle" fill="#000" font-weight="bold" >150</text>
<line x1="566.89" y1="331.3" x2="566.89" y2="328.3" stroke="#000" stroke-width="1.2" />
<text x="566.89" y="340.7" font-size="9" text-anchor="middle" fill="#000" font-weight="bold" >300</text>
<line x1="603.38" y1="331.3" x2="603.38" y2="328.3" stroke="#000" stroke-width="1.2" />
<text x="603.38" y="340.7" font-size="9" text-anchor="middle" fill="#000" font-weight="bold" >450</text>
<line x1="639.88" y1="331.3" x2="639.88" y2="328.3" stroke="#000" stroke-width="1.2" />
<text x="639.88" y="340.7" font-size="9" text-anchor="middle" fill="#000" font-weight="bold" >600</text>
<line x1="676.38" y1="331.3" x2="676.38" y2="328.3" stroke="#000" stroke-width="1.2" />
<text x="676.38" y="340.7" font-size="9" text-anchor="middle" fill="#000" font-weight="bold" >750</text>
<line x1="512.15" y1="331.3" x2="512.15" y2="329.7" stroke="#000" stroke-width="1.1" />
<line x1="548.64" y1="331.3" x2="548.64" y2="329.7" stroke="#000" stroke-width="1.1" />
<line x1="585.14" y1="331.3" x2="585.14" y2="329.7" stroke="#000" stroke-width="1.1" />
<line x1="621.63" y1="331.3" x2="621.63" y2="329.7" stroke="#000" stroke-width="1.1" />
<line x1="658.13" y1="331.3" x2="658.13" y2="329.7" stroke="#000" stroke-width="1.1" />
<line x1="502.7" y1="196.3" x2="505.7" y2="196.3" stroke="#000" stroke-width="1.2" />
<text x="498.5" y="199.5" font-size="9" text-anchor="end" fill="#000" font-weight="bold" >100</text>
<line x1="502.7" y1="212.4" x2="505.7" y2="212.4" stroke="#000" stroke-width="1.2" />
<text x="498.5" y="215.6" font-size="9" text-anchor="end" fill="#000" font-weight="bold" >75</text>
<line x1="502.7" y1="228.5" x2="505.7" y2="228.5" stroke="#000" stroke-width="1.2" />
<text x="498.5" y="231.7" font-size="9" text-anchor="end" fill="#000" font-weight="bold" >50</text>
<line x1="502.7" y1="244.6" x2="505.7" y2="244.6" stroke="#000" stroke-width="1.2" />
<text x="498.5" y="247.8" font-size="9" text-anchor="end" fill="#000" font-weight="bold" >25</text>
<line x1="502.7" y1="260.7" x2="505.7" y2="260.7" stroke="#000" stroke-width="1.2" />
<text x="498.5" y="263.9" font-size="9" text-anchor="end" fill="#000" font-weight="bold" >0</text>
<line x1="502.7" y1="278.1" x2="505.7" y2="278.1" stroke="#000" stroke-width="1.2" />
<text x="498.5" y="281.3" font-size="9" text-anchor="end" fill="#000" font-weight="bold" >&#8722;0.5</text>
<line x1="502.7" y1="295.5" x2="505.7" y2="295.5" stroke="#000" stroke-width="1.2" />
<text x="498.5" y="298.7" font-size="9" text-anchor="end" fill="#000" font-weight="bold" >&#8722;1.0</text>
<line x1="502.7" y1="312.9" x2="505.7" y2="312.9" stroke="#000" stroke-width="1.2" />
<text x="498.5" y="316.1" font-size="9" text-anchor="end" fill="#000" font-weight="bold" >&#8722;1.5</text>
<line x1="502.7" y1="330.3" x2="505.7" y2="330.3" stroke="#000" stroke-width="1.2" />
<text x="498.5" y="333.5" font-size="9" text-anchor="end" fill="#000" font-weight="bold" >&#8722;2.0</text>
<line x1="502.7" y1="204.35" x2="504.3" y2="204.35" stroke="#000" stroke-width="1.1" />
<line x1="502.7" y1="220.45" x2="504.3" y2="220.45" stroke="#000" stroke-width="1.1" />
<line x1="502.7" y1="236.55" x2="504.3" y2="236.55" stroke="#000" stroke-width="1.1" />
<line x1="502.7" y1="252.65" x2="504.3" y2="252.65" stroke="#000" stroke-width="1.1" />
<line x1="502.7" y1="269.4" x2="504.3" y2="269.4" stroke="#000" stroke-width="1.1" />
<line x1="502.7" y1="286.8" x2="504.3" y2="286.8" stroke="#000" stroke-width="1.1" />
<line x1="502.7" y1="304.2" x2="504.3" y2="304.2" stroke="#000" stroke-width="1.1" />
<line x1="502.7" y1="321.6" x2="504.3" y2="321.6" stroke="#000" stroke-width="1.1" />
<line x1="502.1" y1="259.4" x2="676.9" y2="259.4" stroke="#222" stroke-width="1.5" stroke-dasharray="5.2,5.3"/>
<path d="M502.7,196.9 C507.25,196.92 522.12,196.92 530,197 C537.88,197.08 545.27,197.12 550,197.4 C554.73,197.68 555.58,198.05 558.4,198.7 C561.22,199.35 564.08,200.32 566.9,201.3 C569.72,202.28 573.2,203.48 575.3,204.6 C577.4,205.72 578.23,206.45 579.5,208 C580.77,209.55 581.92,211.78 582.9,213.9 C583.88,216.02 584.7,218.45 585.4,220.7 C586.1,222.95 586.4,224.6 587.1,227.4 C587.8,230.2 588.82,234.7 589.6,237.5 C590.38,240.3 591.1,242.8 591.8,244.2 C592.5,245.6 592.33,245.47 593.8,245.9 C595.27,246.33 598.73,246.5 600.6,246.8 C602.47,247.1 602.43,247.45 605,247.7 C607.57,247.95 612.35,248.12 616,248.3 C619.65,248.48 623.27,248.62 626.9,248.8 C630.53,248.98 634.15,249.22 637.8,249.4 C641.45,249.58 645.15,249.77 648.8,249.9 C652.45,250.03 655.02,250.07 659.7,250.2 C664.38,250.33 674.03,250.62 676.9,250.7" fill="none" stroke="#1a1aff" stroke-width="1.8" stroke-linejoin="round" stroke-linecap="round" />
<path d="M502.7,197.4 C507.25,197.43 522.12,197.5 530,197.6 C537.88,197.7 545.55,197.67 550,198 C554.45,198.33 554.45,199.05 556.7,199.6 C558.95,200.15 561.25,200.73 563.5,201.3 C565.75,201.87 568.23,202.37 570.2,203 C572.17,203.63 573.88,204.35 575.3,205.1 C576.72,205.85 577.72,206.6 578.7,207.5 C579.68,208.4 580.37,209.28 581.2,210.5 C582.03,211.72 582.87,213.25 583.7,214.8 C584.53,216.35 585.35,218.55 586.2,219.8 C587.05,221.05 587.53,221.45 588.8,222.3 C590.07,223.15 592.12,223.92 593.8,224.9 C595.48,225.88 597.22,227.08 598.9,228.2 C600.58,229.32 601.97,230.45 603.9,231.6 C605.83,232.75 608.48,234.37 610.5,235.1 C612.52,235.83 613.27,235.72 616,236 C618.73,236.28 623.27,236.52 626.9,236.8 C630.53,237.08 634.15,237.43 637.8,237.7 C641.45,237.97 642.28,238.1 648.8,238.4 C655.32,238.7 672.22,239.32 676.9,239.5" fill="none" stroke="#ff1a1a" stroke-width="1.8" stroke-linejoin="round" stroke-linecap="round" />
<path d="M502.7,196.9 C507.25,196.93 522.95,196.98 530,197.1 C537.05,197.22 541.67,197.47 545,197.6 C548.33,197.73 548.32,197.57 550,197.9 C551.68,198.23 553.42,198.75 555.1,199.6 C556.78,200.45 558.42,201.6 560.1,203 C561.78,204.4 563.52,206.32 565.2,208 C566.88,209.68 568.52,211.42 570.2,213.1 C571.88,214.78 573.62,216.42 575.3,218.1 C576.98,219.78 578.62,221.78 580.3,223.2 C581.98,224.62 583.7,225.68 585.4,226.6 C587.1,227.52 588.53,228 590.5,228.7 C592.47,229.4 594.97,230.23 597.2,230.8 C599.43,231.37 601.77,231.77 603.9,232.1 C606.03,232.43 607.98,232.43 610,232.8 C612.02,233.17 613.18,233.87 616,234.3 C618.82,234.73 623.27,235.03 626.9,235.4 C630.53,235.77 634.15,236.12 637.8,236.5 C641.45,236.88 645.15,237.38 648.8,237.7 C652.45,238.02 655.02,238.18 659.7,238.4 C664.38,238.62 674.03,238.9 676.9,239" fill="none" stroke="#000" stroke-width="1.8" stroke-linejoin="round" stroke-linecap="round" />
<path d="M502.7,260.8 C507.25,260.82 523.78,260.87 530,260.9 C536.22,260.93 536.38,260.62 540,261 C543.62,261.38 547.8,262.55 551.7,263.2 C555.6,263.85 560.28,264.32 563.4,264.9 C566.52,265.48 568.47,265.92 570.4,266.7 C572.33,267.48 573.65,268.43 575,269.6 C576.35,270.77 577.62,272.23 578.5,273.7 C579.38,275.17 579.72,276.45 580.3,278.4 C580.88,280.35 581.42,282.63 582,285.4 C582.58,288.17 583.15,291.15 583.8,295 C584.45,298.85 585.27,304.42 585.9,308.5 C586.53,312.58 587.2,317.15 587.6,319.5 C588,321.85 588.05,322.6 588.3,322.6 C588.55,322.6 588.83,322.43 589.1,319.5 C589.37,316.57 589.65,309.58 589.9,305 C590.15,300.42 590.37,296.17 590.6,292 C590.83,287.83 591.07,283.25 591.3,280 C591.53,276.75 591.7,274.92 592,272.5 C592.3,270.08 592.62,267.05 593.1,265.5 C593.58,263.95 594.02,263.75 594.9,263.2 C595.78,262.65 595.88,262.42 598.4,262.2 C600.92,261.98 605.57,262 610,261.9 C614.43,261.8 618.33,261.72 625,261.6 C631.67,261.48 641.35,261.33 650,261.2 C658.65,261.07 672.42,260.87 676.9,260.8" fill="none" stroke="#1a1aff" stroke-width="1.9" stroke-linejoin="round" stroke-linecap="round" />
<path d="M502.7,260.8 C507.25,260.8 523.78,260.78 530,260.8 C536.22,260.82 536.38,260.67 540,260.9 C543.62,261.13 547.8,261.72 551.7,262.2 C555.6,262.68 560.48,263.35 563.4,263.8 C566.32,264.25 567.45,264.42 569.2,264.9 C570.95,265.38 572.53,265.92 573.9,266.7 C575.27,267.48 576.43,268.23 577.4,269.6 C578.37,270.97 579.02,272.85 579.7,274.9 C580.38,276.95 580.92,279.67 581.5,281.9 C582.08,284.13 582.62,287.72 583.2,288.3 C583.78,288.88 584.42,287.05 585,285.4 C585.58,283.75 586.05,280.88 586.7,278.4 C587.35,275.92 588.12,272.17 588.9,270.5 C589.68,268.83 590.6,268.77 591.4,268.4 C592.2,268.03 592.73,268.13 593.7,268.3 C594.67,268.47 596.08,269.05 597.2,269.4 C598.32,269.75 599.37,270.42 600.4,270.4 C601.43,270.38 602.37,269.92 603.4,269.3 C604.43,268.68 605.5,267.53 606.6,266.7 C607.7,265.87 608.65,264.93 610,264.3 C611.35,263.67 612.3,263.2 614.7,262.9 C617.1,262.6 621.03,262.67 624.4,262.5 C627.77,262.33 632.27,261.9 634.9,261.9 C637.53,261.9 638.52,262.48 640.2,262.5 C641.88,262.52 638.88,262.27 645,262 C651.12,261.73 671.58,261.08 676.9,260.9" fill="none" stroke="#ff1a1a" stroke-width="1.8" stroke-linejoin="round" stroke-linecap="round" />
<path d="M502.7,260.9 C507.25,260.92 523.78,260.92 530,261 C536.22,261.08 537.17,261.03 540,261.4 C542.83,261.77 545.05,262.42 547,263.2 C548.95,263.98 549.95,265.17 551.7,266.1 C553.45,267.03 555.55,268.02 557.5,268.8 C559.45,269.58 561.25,270.13 563.4,270.8 C565.55,271.47 568.27,272.17 570.4,272.8 C572.53,273.43 574.65,274.1 576.2,274.6 C577.75,275.1 578.73,275.85 579.7,275.8 C580.67,275.75 581.12,275.13 582,274.3 C582.88,273.47 584.02,271.92 585,270.8 C585.98,269.68 586.83,268.48 587.9,267.6 C588.97,266.72 590.03,266.08 591.4,265.5 C592.77,264.92 594.15,264.53 596.1,264.1 C598.05,263.67 600.57,263.13 603.1,262.9 C605.63,262.67 607.75,262.77 611.3,262.7 C614.85,262.63 620.02,262.6 624.4,262.5 C628.78,262.4 634.97,262.05 637.6,262.1 C640.23,262.15 639.33,262.8 640.2,262.8 C641.07,262.8 636.68,262.42 642.8,262.1 C648.92,261.78 671.22,261.1 676.9,260.9" fill="none" stroke="#000" stroke-width="1.8" stroke-linejoin="round" stroke-linecap="round" />
<line x1="579.7" y1="266" x2="579.7" y2="285" stroke="#444" stroke-width="1" stroke-dasharray="2,1.5"/>
<line x1="583.3" y1="280" x2="583.3" y2="298" stroke="#444" stroke-width="1" stroke-dasharray="2,1.5"/>
<line x1="588.3" y1="308" x2="588.3" y2="331" stroke="#444" stroke-width="1" stroke-dasharray="2,1.5"/>
<text x="578.1" y="285.4" font-size="7.8" text-anchor="end" fill="#000" font-weight="bold" >350.9</text>
<text x="582.8" y="297" font-size="7.8" text-anchor="end" fill="#000" font-weight="bold" >366.5</text>
<text x="586.6" y="326" font-size="7.8" text-anchor="end" fill="#000" font-weight="bold" >387.6</text>
<rect x="502.7" y="190.7" width="174.2" height="140.6" fill="none" stroke="#000" stroke-width="1.8" />
<line x1="613" y1="298.2" x2="633.8" y2="298.2" stroke="#000" stroke-width="1.7" />
<text x="635.2" y="301.3" font-size="8.6" text-anchor="start" fill="#000" font-weight="bold" >WOOD</text>
<line x1="613" y1="309.1" x2="633.8" y2="309.1" stroke="#ff1a1a" stroke-width="1.7" />
<text x="635.2" y="312.2" font-size="8.6" text-anchor="start" fill="#000" font-weight="bold" >W-ESO-B</text>
<line x1="613" y1="320" x2="633.8" y2="320" stroke="#1a1aff" stroke-width="1.7" />
<text x="635.2" y="323.1" font-size="8.6" text-anchor="start" fill="#000" font-weight="bold" >W-PEG</text>
<text transform="translate(475.5,222.7) rotate(-90)" x="0" y="0" font-size="9.3" text-anchor="middle" dominant-baseline="central" fill="#000" font-weight="bold" >Weight (wt%)</text>
<text transform="translate(476.2,295.2) rotate(-90)" x="0" y="0" font-size="9.3" text-anchor="middle" dominant-baseline="central" fill="#000" font-weight="bold" >d(TG)/Dt (%/min<tspan font-size="6" dy="-3.5">&#8722;1</tspan><tspan dy="3.5">)</tspan></text>
<text x="590.1" y="352.4" font-size="10.8" text-anchor="middle" fill="#000" font-weight="bold" >Temperature (<tspan font-size="6.8" dy="-4.2">o</tspan><tspan dy="4.2">C)</tspan></text>
</svg></body></html>
